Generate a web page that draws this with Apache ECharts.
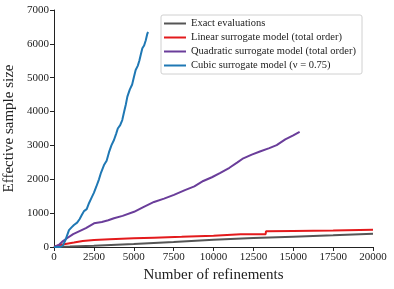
<!DOCTYPE html>
<html><head><meta charset="utf-8">
<script src="https://cdn.jsdelivr.net/npm/echarts@6/dist/echarts.min.js"></script>
<style>html,body{margin:0;padding:0;background:#fff}#c{width:394px;height:289px}</style>
</head><body><div id="c"></div>
<script>
const seriesNames = ["Exact evaluations","Linear surrogate model (total order)","Quadratic surrogate model (total order)","Cubic surrogate model (ν = 0.75)"];
const xTicks = [0,2500,5000,7500,10000,12500,15000,17500,20000];
const yTicks = [0,1000,2000,3000,4000,5000,6000,7000];
const exactData = [[0,0],[1000,15],[2500,40],[5000,90],[7500,150],[10000,215],[12500,265],[15000,305],[17500,345],[20000,390]];
const linearData = [[0,0],[300,50],[630,80],[1250,130],[1800,180],[2510,207],[3500,230],[5000,255],[6270,276],[8000,300],[10000,335],[11700,374],[13270,380],[13290,463],[15000,475],[17500,490],[20000,512]];
const quadData = [[0,0],[300,60],[500,150],[835,265],[1200,380],[1600,470],[2000,560],[2510,700],[3000,740],[3400,790],[3760,850],[4300,920],[5020,1040],[5600,1180],[6270,1330],[6900,1430],[7520,1540],[8210,1680],[8800,1790],[9360,1950],[9900,2060],[10400,2180],[11000,2340],[11500,2500],[11870,2620],[12400,2730],[12910,2820],[13500,2920],[13960,3010],[14500,3180],[15000,3300],[15400,3400]];
const cubicData = [[0,0],[400,0],[550,40],[700,180],[850,380],[940,500],[1100,580],[1250,650],[1450,720],[1600,820],[1750,950],[1880,1060],[2050,1120],[2200,1300],[2350,1450],[2500,1600],[2650,1780],[2820,2000],[2950,2200],[3135,2420],[3300,2550],[3450,2800],[3600,3000],[3760,3160],[3900,3350],[4000,3500],[4150,3600],[4280,3750],[4400,4000],[4500,4200],[4600,4440],[4750,4650],[4900,4800],[5000,5000],[5120,5230],[5250,5350],[5350,5500],[5450,5700],[5540,5870],[5650,5950],[5750,6100],[5850,6300],[5900,6350]];
const colors = ["#555555","#e31a1c","#6a3d9a","#1f78b4"];
const font = "'Liberation Serif','DejaVu Serif',serif";
const chart = echarts.init(document.getElementById('c'));
const mk = (name, data, color) => ({name, type:'line', data, symbol:'none', color, lineStyle:{width:2, color}, animation:false});
chart.setOption({
  animation:false,
  textStyle:{fontFamily:font},
  grid:{left:54,right:21,top:10,bottom:42,containLabel:false,outerBoundsMode:'none'},
  legend:{
    orient:'vertical', left:161, top:15, data:seriesNames,
    icon:'rect', itemWidth:22, itemHeight:2, itemGap:3,
    textStyle:{fontFamily:font, fontSize:10.5, color:'#222'},
    borderColor:'#d0d0d0', borderWidth:1, borderRadius:2, padding:[3,6,3,3], backgroundColor:'#fff'
  },
  xAxis:{type:'value', min:0, max:20000, interval:2500,
    name:'Number of refinements', nameLocation:'middle', nameGap:20,
    nameTextStyle:{fontFamily:font, fontSize:15, color:'#222'},
    axisLine:{show:true, lineStyle:{color:'#222', width:1}},
    axisTick:{show:true, length:4, lineStyle:{color:'#222'}},
    axisLabel:{fontFamily:font, fontSize:11, color:'#222', margin:5, formatter:v=>String(v)},
    splitLine:{show:false}},
  yAxis:{type:'value', min:0, max:7000, interval:1000,
    name:'Effective sample size', nameLocation:'middle', nameGap:36,
    nameTextStyle:{fontFamily:font, fontSize:15, color:'#222'},
    axisLine:{show:true, lineStyle:{color:'#222', width:1}},
    axisTick:{show:true, length:4, lineStyle:{color:'#222'}},
    axisLabel:{fontFamily:font, fontSize:11, color:'#222', margin:5, formatter:v=>String(v)},
    splitLine:{show:false}},
  series:[
    mk(seriesNames[0], exactData, colors[0]),
    mk(seriesNames[1], linearData, colors[1]),
    mk(seriesNames[2], quadData, colors[2]),
    mk(seriesNames[3], cubicData, colors[3])
  ]
});
</script></body></html>
